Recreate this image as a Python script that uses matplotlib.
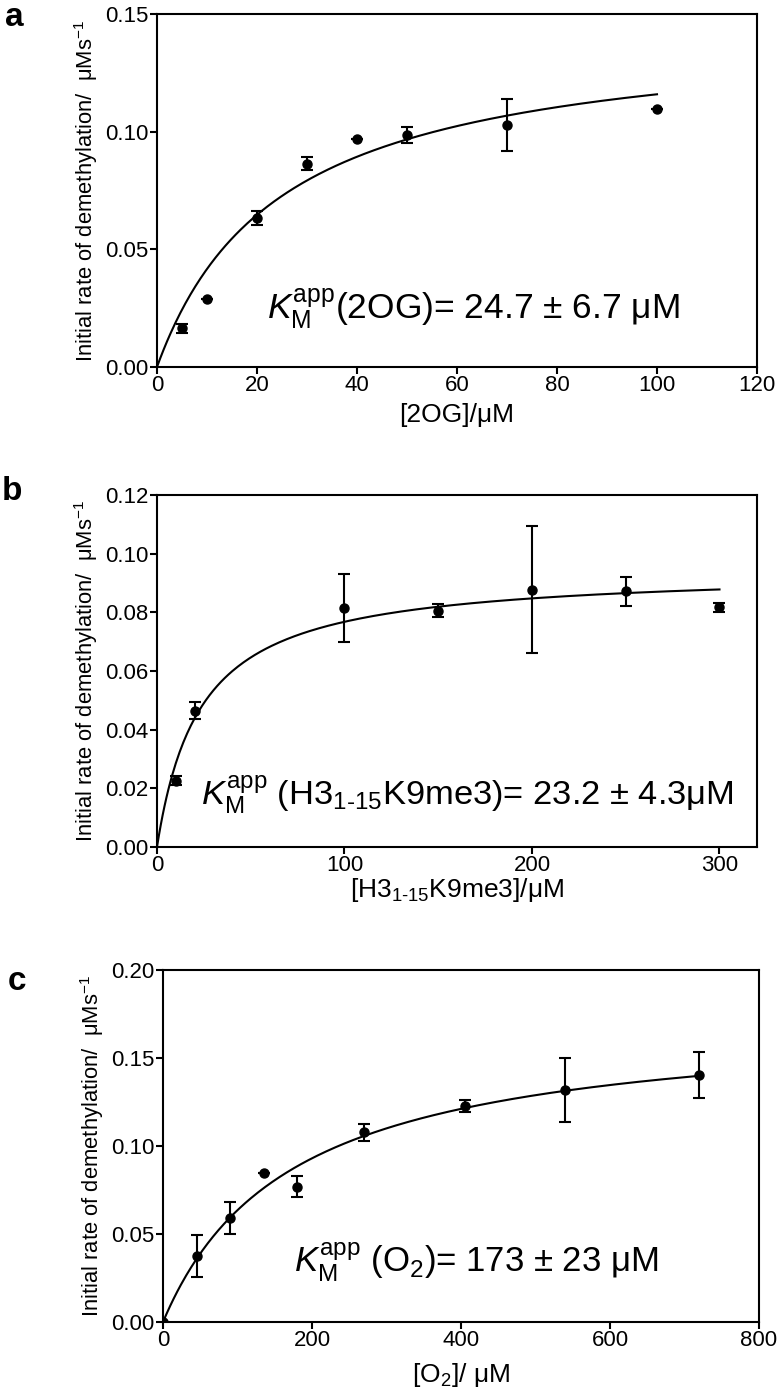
#!/usr/bin/env python3
import matplotlib
matplotlib.use("Agg")
import matplotlib.pyplot as plt
import numpy as np

plt.rcParams["font.family"] = ["Liberation Sans", "DejaVu Sans"]
plt.rcParams["mathtext.fontset"] = "custom"
plt.rcParams["mathtext.rm"] = "Liberation Sans"
plt.rcParams["mathtext.it"] = "Liberation Sans:italic"
plt.rcParams["mathtext.bf"] = "Liberation Sans:bold"

# panel a: 2OG
og_conc = [5, 10, 20, 30, 40, 50, 70, 100]
og_rate = [0.0164, 0.0289, 0.0633, 0.0863, 0.0969, 0.0986, 0.1028, 0.1098]
og_err = [0.0020, 0.0, 0.0030, 0.0028, 0.0, 0.0035, 0.0110, 0.0]
og_km, og_vmax = 24.7, 0.1445

# panel b: H3 1-15 K9me3 peptide
pep_conc = [10, 20, 100, 150, 200, 250, 300]
pep_rate = [0.0226, 0.0465, 0.0815, 0.0806, 0.0877, 0.0872, 0.0817]
pep_err = [0.0015, 0.0030, 0.0117, 0.0023, 0.0216, 0.0050, 0.0015]
pep_km, pep_vmax = 23.2, 0.0946

# panel c: O2
o2_conc = [0, 45, 90, 135, 180, 270, 405, 540, 720]
o2_rate = [0.0, 0.0376, 0.0591, 0.0844, 0.0770, 0.1078, 0.1228, 0.1319, 0.1405]
o2_err = [0.0, 0.0120, 0.0093, 0.0, 0.0060, 0.0050, 0.0035, 0.0180, 0.0130]
o2_km, o2_vmax = 173.0, 0.1735

YLABEL = "Initial rate of demethylation/  \u03bcMs$^{-1}$"


def mm_curve(xmax, vmax, km):
    # Michaelis-Menten fit line
    x = np.linspace(0, xmax, 300)
    return x, vmax * x / (km + x)


def draw_panel(ax, conc, rate, err, km, vmax, xlim, ylim, xticks, yticks, yfmt):
    x, y = mm_curve(max(conc), vmax, km)
    ax.plot(x, y, color="black", lw=1.5, zorder=2)
    ax.errorbar(conc, rate, yerr=err, fmt="o", color="black", ms=6.5,
                elinewidth=1.5, capsize=4, capthick=1.5, zorder=3)
    ax.set_xlim(*xlim)
    ax.set_ylim(*ylim)
    ax.set_xticks(xticks)
    ax.set_yticks(yticks)
    ax.set_yticklabels([yfmt.format(v) for v in yticks])
    for s in ax.spines.values():
        s.set_linewidth(1.5)
    ax.tick_params(direction="out", length=5, width=1.5, labelsize=16, pad=1)
    ax.set_ylabel(YLABEL, fontsize=15.8, labelpad=4)


fig = plt.figure(figsize=(7.78, 14.0), dpi=100)
ax_a = fig.add_axes([0.2018, 0.7379, 0.7712, 0.2521])
ax_b = fig.add_axes([0.2018, 0.3950, 0.7712, 0.2514])
ax_c = fig.add_axes([0.2095, 0.0557, 0.7660, 0.2514])

draw_panel(ax_a, og_conc, og_rate, og_err, og_km, og_vmax,
           (0, 120), (0, 0.15), range(0, 121, 20), [0.0, 0.05, 0.10, 0.15], "{:.2f}")
draw_panel(ax_b, pep_conc, pep_rate, pep_err, pep_km, pep_vmax,
           (0, 320), (0, 0.12), [0, 100, 200, 300],
           [0.0, 0.02, 0.04, 0.06, 0.08, 0.10, 0.12], "{:.2f}")
draw_panel(ax_c, o2_conc, o2_rate, o2_err, o2_km, o2_vmax,
           (0, 800), (0, 0.20), range(0, 801, 200),
           [0.0, 0.05, 0.10, 0.15, 0.20], "{:.2f}")

ax_a.set_xlabel("[2OG]/\u03bcM", fontsize=19, labelpad=5)
ax_b.set_xlabel("[H3$_{1\u201015}$K9me3]/\u03bcM", fontsize=19, labelpad=0)
ax_c.set_xlabel("[O$_2$]/ \u03bcM", fontsize=19, labelpad=7)

km_sym = r"$\mathit{K}_{\mathrm{M}}^{\mathrm{app}}$"
ax_a.text(0.183, 0.165, km_sym + "(2OG)= 24.7 \u00b1 6.7 \u03bcM",
          transform=ax_a.transAxes, fontsize=25.5, va="center", ha="left")
ax_b.text(0.073, 0.148, km_sym + " (H3$_{1\u201015}$K9me3)= 23.2 \u00b1 4.3\u03bcM",
          transform=ax_b.transAxes, fontsize=24.8, va="center", ha="left")
ax_c.text(0.22, 0.17, km_sym + " (O$_2$)= 173 \u00b1 23 \u03bcM",
          transform=ax_c.transAxes, fontsize=25, va="center", ha="left")

fig.text(0.006, 0.9875, "a", fontsize=24, fontweight="bold", va="center", ha="left")
fig.text(0.002, 0.6486, "b", fontsize=24, fontweight="bold", va="center", ha="left")
fig.text(0.010, 0.2986, "c", fontsize=24, fontweight="bold", va="center", ha="left")

fig.savefig("out.png", dpi=100)
